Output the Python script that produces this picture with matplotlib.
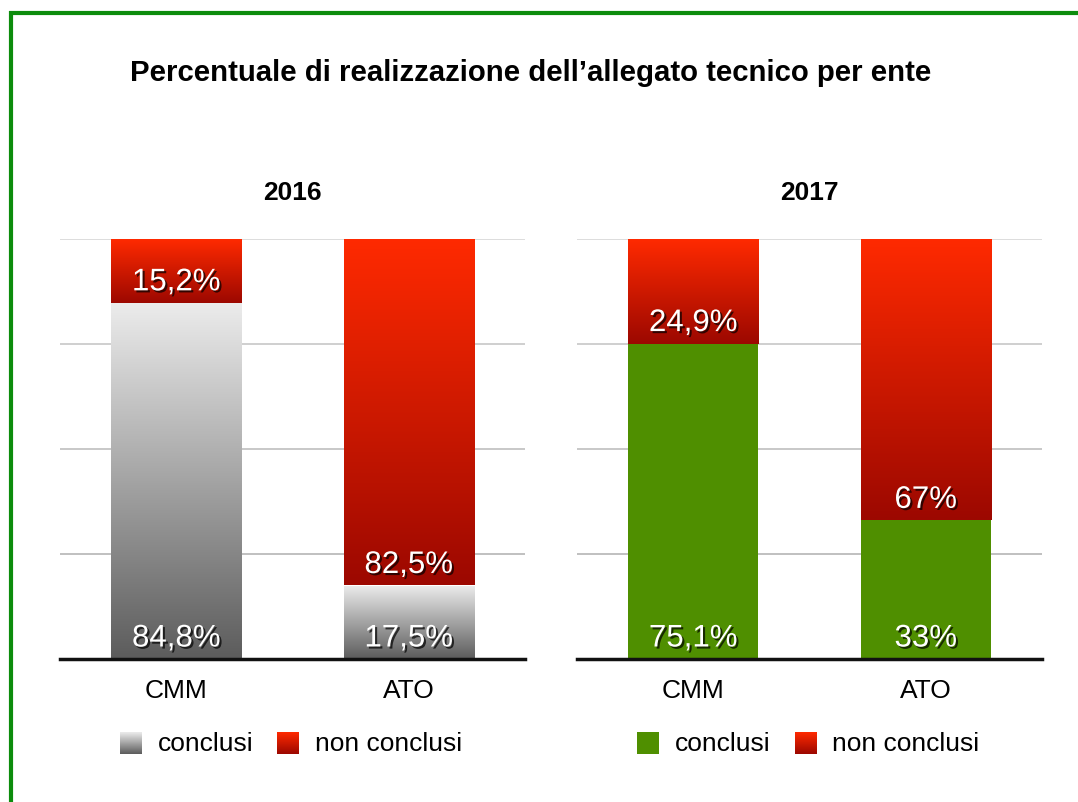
import numpy as np
import matplotlib
matplotlib.use('Agg')
import matplotlib.pyplot as plt
import matplotlib.patheffects as pe
from matplotlib.colors import LinearSegmentedColormap

plt.rcParams['font.family'] = ['Liberation Sans', 'DejaVu Sans']

# Data
years = ['2016', '2017']
enti = ['CMM', 'ATO']
conclusi_2016 = [84.8, 17.5]
non_conclusi_2016 = [15.2, 82.5]
conclusi_2017 = [75.1, 33.0]
non_conclusi_2017 = [24.9, 67.0]
labels_conclusi_2016 = ['84,8%', '17,5%']
labels_non_conclusi_2016 = ['15,2%', '82,5%']
labels_conclusi_2017 = ['75,1%', '33%']
labels_non_conclusi_2017 = ['24,9%', '67%']
legend_labels = ['conclusi', 'non conclusi']

RED = ('#ff2a00', '#9c0800')
GREY = ('#ececec', '#5c5c5c')
GREEN = '#4f8f00'

W, H = 1078, 803
fig = plt.figure(figsize=(W / 100, H / 100), dpi=100)

shadow = [pe.SimplePatchShadow(offset=(1.5, -1.5), shadow_rgbFace='black', alpha=0.7),
          pe.Normal()]


def gradient_fill(ax, bar, colors):
    # paint a vertical gradient inside a bar patch
    x, y = bar.get_x(), bar.get_y()
    w, h = bar.get_width(), bar.get_height()
    cmap = LinearSegmentedColormap.from_list('g', [colors[1], colors[0]])
    grad = np.linspace(0, 1, 256).reshape(-1, 1)
    im = ax.imshow(grad, extent=[x, x + w, y, y + h], origin='lower', aspect='auto',
                   cmap=cmap, zorder=2, interpolation='bicubic')
    im.set_clip_path(bar)
    bar.set_facecolor('none')


def draw_panel(ax, year, done, notdone, done_lbl, notdone_lbl, done_colors):
    x = np.arange(len(enti))
    b1 = ax.bar(x, done, width=0.56, zorder=2, linewidth=0)
    b2 = ax.bar(x, notdone, width=0.56, bottom=done, zorder=2, linewidth=0)
    for bar in b1:
        if isinstance(done_colors, tuple):
            gradient_fill(ax, bar, done_colors)
        else:
            bar.set_facecolor(done_colors)
    for bar in b2:
        gradient_fill(ax, bar, RED)

    for i in range(len(enti)):
        ax.annotate(done_lbl[i], (x[i], 0), xytext=(0, 9), textcoords='offset points',
                    ha='center', va='baseline', color='white', fontsize=22.5, zorder=5,
                    path_effects=shadow)
        ax.annotate(notdone_lbl[i], (x[i], done[i]), xytext=(0, 9), textcoords='offset points',
                    ha='center', va='baseline', color='white', fontsize=22.5, zorder=5,
                    path_effects=shadow)

    ax.set_xlim(-0.5, 1.5)
    ax.set_ylim(0, 100)
    ax.set_yticks([25, 50, 75, 100])
    ax.set_yticklabels([])
    ax.tick_params(axis='y', length=0)
    ax.grid(axis='y', linewidth=1.3, zorder=0)
    for line, c in zip(ax.get_ygridlines(), ['#bbbbbb', '#c4c4c4', '#cccccc', '#dadada']):
        line.set_color(c)
    ax.set_axisbelow(True)
    ax.set_xticks(x)
    ax.set_xticklabels(enti, fontsize=19)
    ax.tick_params(axis='x', length=0, pad=14)
    for s in ['top', 'right', 'left']:
        ax.spines[s].set_visible(False)
    ax.spines['bottom'].set_linewidth(2.5)
    ax.spines['bottom'].set_color('#111111')
    ax.spines['bottom'].set_zorder(4)
    ax.text(0.5, 1.112, year, transform=ax.transAxes, ha='center', va='center',
            fontsize=19, fontweight='bold')


ax1 = fig.add_axes([60 / W, 1 - 660 / H, 465 / W, 420 / H])
ax2 = fig.add_axes([577 / W, 1 - 660 / H, 465 / W, 420 / H])
draw_panel(ax1, years[0], conclusi_2016, non_conclusi_2016,
           labels_conclusi_2016, labels_non_conclusi_2016, GREY)
draw_panel(ax2, years[1], conclusi_2017, non_conclusi_2017,
           labels_conclusi_2017, labels_non_conclusi_2017, GREEN)

# overlay in pixel coordinates for frame, title and legends
ov = fig.add_axes([0, 0, 1, 1], zorder=-1)
ov.set_xlim(0, W)
ov.set_ylim(H, 0)
ov.axis('off')
ov.plot([9, W], [13.5, 13.5], color='#0c8c0c', lw=3, solid_capstyle='butt')
ov.plot([10.5, 10.5], [12, H], color='#0c8c0c', lw=3, solid_capstyle='butt')

fig.text(531 / W, 1 - 73 / H, 'Percentuale di realizzazione dell\u2019allegato tecnico per ente',
         ha='center', va='center', fontsize=21.2, fontweight='bold')


def swatch(x0, colors):
    if isinstance(colors, tuple):
        cmap = LinearSegmentedColormap.from_list('s', [colors[0], colors[1]])
        ov.imshow(np.linspace(0, 1, 64).reshape(-1, 1), extent=[x0, x0 + 22, 755, 733],
                  cmap=cmap, aspect='auto', origin='upper', interpolation='bicubic')
    else:
        ov.add_patch(plt.Rectangle((x0, 733), 22, 22, color=colors, lw=0))


for sx, tx, col, lab in [(120, 158, GREY, legend_labels[0]), (277, 315, RED, legend_labels[1]),
                         (637, 675, GREEN, legend_labels[0]), (795, 832, RED, legend_labels[1])]:
    swatch(sx, col)
    ov.text(tx, 744, lab, ha='left', va='center', fontsize=19)
ov.set_xlim(0, W)
ov.set_ylim(H, 0)

fig.savefig('out.png', dpi=100, facecolor='white')
